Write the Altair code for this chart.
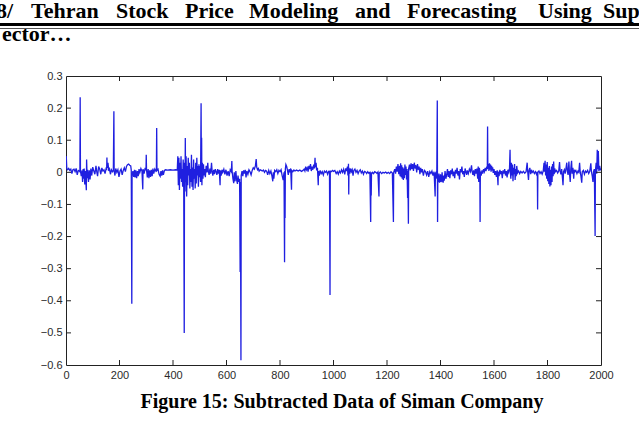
import altair as alt
import pandas as pd

# Subtracted (differenced) series of Siman Company, sample index vs. value.
idx_a = [0, 1, 3, 6, 10, 14, 18, 22, 26, 30, 34, 38, 42, 46, 50, 52, 53, 54, 57, 60,
         62, 64, 66, 68, 70, 72, 74, 76, 77, 79, 81, 84, 87, 90, 93, 96, 100, 104, 108, 112,
         115, 118, 122, 126, 130, 134, 138, 142, 146, 150, 152, 153, 154, 157, 160, 163, 166, 170, 174, 177,
         179, 180, 183, 186, 190, 194, 198, 202, 206, 210, 214, 218, 222, 226, 230, 234, 238, 242, 244, 246,
         247, 250, 253, 256, 258, 261, 264, 267, 270, 273, 276, 280, 284, 287, 288, 292, 296, 299, 300, 301,
         304, 307, 310, 313, 316, 319, 322, 325, 328, 332, 336, 338, 339, 340, 344, 348, 352, 355, 358, 361,
         364, 368, 372, 380, 390, 400, 410, 416, 418, 420, 422, 424, 426, 428, 430, 432, 434, 436, 438, 440,
         442, 443, 445, 446, 447, 449, 451, 453, 455, 457, 459, 461, 463, 465, 467, 469, 471, 473, 475, 477,
         479, 481, 483, 485, 487, 489, 491, 493, 495, 497, 499]
val_a = [0.048, 0.050, 0.012, 0.008, 0.012, 0.006, 0.010, -0.004, 0.008, 0.010, 0.002, 0.012, -0.008, 0.006, 0.004, 0.002, 0.234, 0.004, -0.012, 0.006,
         -0.030, 0.010, -0.020, 0.012, -0.038, 0.004, -0.025, -0.056, 0.040, -0.018, 0.008, -0.030, 0.006, -0.022, 0.012, -0.010, 0.016, 0.004, -0.006, 0.020,
         0.002, -0.012, 0.018, 0.010, -0.006, 0.014, 0.004, 0.008, -0.004, 0.012, 0.010, 0.046, 0.014, 0.030, 0.004, 0.010, -0.006, 0.008, 0.002, 0.006,
         0.190, 0.004, -0.010, 0.012, 0.000, 0.008, -0.014, 0.004, 0.010, -0.008, 0.006, 0.014, 0.002, 0.018, 0.024, 0.026, 0.022, 0.020, 0.006, -0.409,
         -0.010, 0.004, -0.014, 0.008, -0.016, 0.006, -0.018, 0.004, -0.012, 0.010, 0.000, 0.012, 0.004, -0.053, 0.010, -0.004, 0.014, 0.006, 0.055, 0.008,
         -0.016, 0.010, -0.018, 0.006, -0.014, 0.008, -0.012, 0.012, -0.004, 0.010, 0.004, 0.008, 0.138, 0.006, 0.010, -0.006, -0.012, 0.004, -0.010, 0.006,
         -0.008, 0.006, 0.008, 0.007, 0.008, 0.007, 0.008, 0.007, 0.050, -0.040, 0.045, -0.055, 0.030, -0.020, 0.050, -0.030, 0.010, -0.045, 0.040, -0.020,
         -0.500, 0.030, -0.060, 0.107, -0.030, 0.050, -0.075, 0.020, -0.040, 0.045, -0.010, 0.030, -0.050, 0.010, -0.030, 0.055, -0.045, 0.015, -0.055, 0.040,
         -0.020, 0.010, -0.050, 0.030, -0.035, 0.045, -0.010, 0.020, -0.045, 0.025, -0.015]

idx_b = [501, 503, 505, 506, 507, 508, 510, 512, 514, 516, 518, 521, 524, 527, 530, 532, 535, 538, 541, 544,
         546, 549, 552, 555, 558, 561, 564, 567, 570, 573, 576, 577, 580, 583, 586, 590, 594, 598, 602, 606,
         610, 614, 618, 620, 621, 624, 627, 629, 632, 635, 638, 641, 643, 646, 649, 651, 652, 654, 655, 658,
         661, 664, 667, 670, 673, 676, 680, 684, 688, 692, 696, 700, 704, 708, 711, 713, 716, 719, 722, 726,
         730, 734, 738, 742, 746, 750, 754, 758, 762, 766, 770, 773, 775, 777, 780, 784, 788, 792, 796, 800,
         804, 808, 812, 815, 817, 818, 819, 820, 822, 825, 828, 831, 834, 837, 840, 843, 844, 848, 852, 856,
         862, 868, 874, 880, 886, 890, 893, 896, 899, 902, 905, 908, 911, 914, 917, 920, 923, 926, 929, 931,
         932, 935, 937, 940, 943, 944, 947, 950, 954, 958, 962, 966, 970, 974, 978, 982, 985, 987, 988, 992,
         996]
val_b = [0.020, -0.030, 0.215, 0.000, 0.108, -0.040, 0.030, -0.020, 0.025, -0.010, 0.010, -0.015, 0.020, 0.000, 0.030, 0.004, -0.008, 0.012, -0.004, 0.030,
         0.006, -0.010, 0.008, -0.006, 0.010, 0.002, -0.008, 0.010, -0.004, 0.008, -0.040, 0.006, -0.010, 0.008, 0.000, 0.010, -0.006, 0.008, -0.010, 0.004,
         -0.012, 0.008, 0.002, 0.035, 0.004, -0.020, -0.034, 0.000, -0.028, 0.004, -0.024, -0.036, -0.010, -0.030, -0.020, -0.310, -0.030, -0.585, -0.010, 0.004,
         -0.012, 0.006, -0.004, 0.008, -0.016, 0.004, -0.006, 0.008, 0.002, -0.008, 0.006, 0.014, 0.010, 0.020, 0.041, 0.016, 0.008, 0.012, 0.004, 0.008,
         0.006, 0.004, 0.007, 0.000, 0.006, 0.004, -0.008, 0.006, -0.004, 0.004, -0.012, -0.028, 0.000, -0.020, 0.006, 0.002, 0.008, -0.004, 0.006, 0.002,
         0.008, -0.010, -0.024, 0.000, -0.280, 0.004, -0.142, 0.010, 0.024, 0.018, 0.006, -0.008, 0.010, 0.000, 0.012, -0.054, 0.006, 0.002, 0.007, 0.004,
         0.007, 0.004, 0.007, 0.003, 0.006, 0.010, 0.004, 0.018, 0.008, 0.014, 0.002, 0.020, 0.010, 0.026, 0.004, 0.018, 0.008, 0.024, 0.012, 0.045,
         0.016, 0.030, 0.006, 0.014, -0.040, 0.004, -0.010, 0.006, -0.004, 0.002, -0.008, 0.004, 0.000, 0.004, -0.006, 0.003, 0.002, -0.382, 0.004, 0.002,
         0.006]

idx_c = [1000, 1005, 1010, 1014, 1018, 1022, 1026, 1030, 1034, 1038, 1042, 1046, 1049, 1052, 1054, 1056, 1057, 1058, 1061, 1064,
         1067, 1070, 1073, 1076, 1080, 1084, 1088, 1092, 1096, 1100, 1104, 1108, 1112, 1116, 1120, 1124, 1128, 1132, 1136, 1139,
         1140, 1141, 1142, 1146, 1150, 1154, 1158, 1162, 1166, 1170, 1171, 1175, 1180, 1185, 1190, 1195, 1200, 1205, 1210, 1215,
         1220, 1224, 1225, 1229, 1232, 1235, 1238, 1241, 1244, 1247, 1249, 1251, 1253, 1255, 1257, 1259, 1261, 1263, 1265, 1267,
         1269, 1271, 1273, 1275, 1277, 1278, 1280, 1281, 1284, 1287, 1290, 1293, 1296, 1299, 1302, 1305, 1308, 1311, 1314, 1317,
         1320, 1323, 1326, 1329, 1332, 1336, 1340, 1344, 1348, 1352, 1356, 1360, 1364, 1368, 1372, 1376, 1380, 1381, 1384, 1386,
         1388, 1389, 1390, 1392, 1394, 1396, 1398, 1400, 1402, 1404, 1406, 1408, 1410, 1412, 1414, 1417, 1420, 1423, 1426, 1429,
         1432, 1435, 1438, 1441, 1444, 1447, 1450, 1453, 1456, 1459, 1462, 1465, 1468, 1471, 1474, 1477, 1480, 1483, 1486, 1489,
         1492, 1495, 1498]
val_c = [0.003, 0.006, -0.004, 0.002, -0.006, 0.004, -0.002, 0.008, 0.000, 0.010, -0.006, 0.012, 0.004, 0.018, -0.010, 0.027, -0.069, 0.014, -0.004, 0.012,
         0.002, 0.008, -0.010, 0.006, 0.010, 0.000, 0.006, -0.004, 0.004, 0.008, -0.002, 0.004, -0.006, 0.003, 0.001, -0.004, 0.002, -0.003, 0.000, -0.155,
         0.000, -0.072, -0.006, 0.000, -0.004, 0.002, 0.000, -0.003, 0.001, -0.075, -0.002, 0.001, -0.004, 0.000, -0.002, 0.001, -0.003, 0.000, -0.004, 0.002,
         -0.002, -0.155, 0.000, 0.010, -0.004, 0.018, 0.002, 0.026, -0.006, 0.020, -0.012, 0.028, -0.015, 0.022, -0.020, 0.016, -0.024, 0.012, -0.018, 0.024,
         -0.008, 0.018, -0.022, 0.010, -0.080, 0.004, -0.160, 0.012, 0.024, 0.006, 0.028, 0.010, 0.026, 0.004, 0.030, 0.012, 0.022, 0.000, 0.026, 0.008,
         0.018, -0.006, 0.014, 0.000, 0.010, -0.010, 0.006, 0.002, -0.008, 0.004, -0.014, 0.002, -0.004, 0.004, -0.010, 0.002, -0.075, -0.004, 0.002, -0.020,
         0.224, -0.155, -0.010, -0.030, -0.004, -0.032, -0.028, -0.006, -0.030, -0.026, 0.000, -0.028, -0.032, -0.010, -0.026, 0.004, -0.020, -0.008, 0.010, -0.014,
         0.004, -0.018, 0.006, -0.006, 0.012, -0.012, 0.002, -0.018, 0.008, -0.004, 0.014, -0.010, 0.004, -0.022, 0.010, 0.000, 0.018, -0.006, 0.004, -0.014,
         0.012, 0.000, -0.008]

idx_d = [1500, 1504, 1508, 1512, 1516, 1518, 1521, 1524, 1527, 1530, 1533, 1536, 1539, 1541, 1543, 1545, 1547, 1548, 1549, 1552,
         1555, 1558, 1561, 1564, 1567, 1570, 1573, 1575, 1576, 1577, 1579, 1581, 1583, 1585, 1587, 1589, 1591, 1593, 1595, 1597,
         1600, 1603, 1606, 1609, 1612, 1615, 1616, 1619, 1622, 1625, 1628, 1631, 1634, 1637, 1640, 1643, 1646, 1649, 1652, 1655,
         1658, 1660, 1661, 1663, 1665, 1667, 1669, 1671, 1673, 1675, 1677, 1679, 1681, 1683, 1685, 1688, 1692, 1696, 1700, 1705,
         1710, 1715, 1720, 1724, 1726, 1729, 1731, 1734, 1737, 1740, 1743, 1747, 1751, 1755, 1759, 1762, 1763, 1764, 1768, 1772,
         1776, 1780, 1784, 1787, 1789, 1791, 1793, 1795, 1797, 1799, 1801, 1803, 1805, 1807, 1809, 1811, 1813, 1815, 1817, 1819,
         1821, 1823, 1825, 1827, 1830, 1834, 1838, 1842, 1845, 1847, 1850, 1853, 1856, 1858, 1860, 1863, 1866, 1869, 1872, 1874,
         1877, 1880, 1882, 1885, 1887, 1890, 1892, 1895, 1898, 1900, 1903, 1906, 1910, 1914, 1917, 1920, 1922, 1925, 1928, 1930,
         1934, 1938, 1942, 1946, 1950, 1954, 1958, 1962, 1964, 1967, 1970, 1972, 1975, 1978, 1979, 1982, 1984, 1986, 1987, 1990,
         1992, 1995, 1998, 2000]
val_d = [0.006, -0.004, 0.010, 0.002, 0.022, 0.004, -0.008, 0.006, -0.012, 0.010, -0.004, 0.012, -0.020, 0.018, -0.030, 0.014, 0.004, -0.155, 0.002, -0.010,
         0.006, -0.004, 0.010, 0.002, 0.014, 0.004, 0.018, 0.010, 0.143, 0.012, 0.026, 0.004, 0.028, 0.008, 0.024, 0.002, 0.020, 0.006, 0.016, -0.002,
         0.010, -0.008, 0.004, -0.014, 0.006, -0.040, 0.002, -0.012, 0.008, -0.006, 0.004, -0.018, 0.006, -0.004, 0.010, -0.010, 0.004, -0.016, 0.008, 0.000,
         0.012, 0.070, 0.004, -0.020, 0.030, -0.010, 0.024, -0.028, 0.014, -0.006, 0.026, -0.024, 0.010, -0.012, 0.020, -0.002, 0.004, -0.004, 0.003, -0.002,
         0.003, -0.003, 0.002, 0.030, 0.002, -0.024, 0.006, 0.014, -0.006, 0.008, 0.000, 0.004, -0.004, 0.002, -0.006, 0.002, -0.116, 0.000, 0.004, -0.004,
         0.002, -0.006, 0.004, 0.030, 0.002, 0.036, -0.010, 0.024, -0.020, 0.032, -0.028, 0.014, -0.036, 0.020, -0.044, 0.008, -0.040, 0.018, -0.030, 0.026,
         -0.012, 0.034, -0.006, 0.012, 0.002, 0.006, -0.002, 0.004, 0.032, 0.006, -0.006, 0.010, -0.018, -0.040, 0.002, 0.008, -0.004, 0.012, 0.030, 0.004,
         -0.008, 0.034, 0.000, -0.030, 0.010, 0.036, -0.004, 0.014, -0.020, 0.008, 0.002, 0.006, -0.004, 0.004, 0.000, 0.030, 0.004, -0.012, -0.032, 0.002,
         0.006, -0.006, 0.004, 0.000, 0.006, -0.004, 0.003, 0.028, 0.004, -0.010, -0.030, 0.002, 0.010, -0.198, 0.004, 0.030, -0.004, 0.070, 0.010, 0.066,
         0.004, 0.020, 0.006, 0.012]

x_ticks = [0, 200, 400, 600, 800, 1000, 1200, 1400, 1600, 1800, 2000]
y_ticks = [-0.6, -0.5, -0.4, -0.3, -0.2, -0.1, 0.0, 0.1, 0.2, 0.3]

header_words = ["8/", "Tehran", "Stock", "Price", "Modeling", "and", "Forecasting", "Using", "Sup"]
header_cont = "ector…"
caption = "Figure 15: Subtracted Data of Siman Company"

W, H = 535, 289
LEFT, TOP = 66, 76

series = pd.DataFrame({
    "i": idx_a + idx_b + idx_c + idx_d,
    "v": val_a + val_b + val_c + val_d,
})

xs = alt.Scale(domain=[0, 2000], nice=False, zero=False)
ys = alt.Scale(domain=[-0.6, 0.3], nice=False, zero=False)

axis_style = dict(ticks=False, domain=False, grid=False, labelFont="Liberation Sans",
                  labelFontSize=11, labelColor="#2a2a2a", title=None,
                  labelOverlap=False, labelBound=False, labelFlush=False)
x_axis = alt.Axis(values=x_ticks, format="d", labelPadding=4, **axis_style)
y_axis = alt.Axis(values=y_ticks, format=".1~f", labelPadding=4, **axis_style)

line = alt.Chart(series).mark_line(color="#1f1fe0", strokeWidth=1.3, clip=True).encode(
    x=alt.X("i:Q", scale=xs, axis=x_axis),
    y=alt.Y("v:Q", scale=ys, axis=y_axis),
)

# MATLAB-style inward tick marks on all four sides of the box
xt = pd.DataFrame({"t": x_ticks[1:-1]})
yt = pd.DataFrame({"t": y_ticks[1:-1]})
tick_len = 5
tick_color = "#222222"
bottom_ticks = alt.Chart(xt).mark_rule(color=tick_color).encode(
    x=alt.X("t:Q", scale=xs, axis=x_axis), y=alt.value(H), y2=alt.value(H - tick_len))
top_ticks = alt.Chart(xt).mark_rule(color=tick_color).encode(
    x=alt.X("t:Q", scale=xs, axis=x_axis), y=alt.value(0), y2=alt.value(tick_len))
left_ticks = alt.Chart(yt).mark_rule(color=tick_color).encode(
    y=alt.Y("t:Q", scale=ys, axis=y_axis), x=alt.value(0), x2=alt.value(tick_len))
right_ticks = alt.Chart(yt).mark_rule(color=tick_color).encode(
    y=alt.Y("t:Q", scale=ys, axis=y_axis), x=alt.value(W), x2=alt.value(W - tick_len))

one = pd.DataFrame({"k": [0]})
serif = dict(font="Liberation Serif", fontWeight="bold", color="#000000")

# running page header above the figure
header_x = [-4, 31, 116, 185, 249, 355, 407, 538, 603]
header_layers = []
for word, px in zip(header_words, header_x):
    header_layers.append(
        alt.Chart(one).mark_text(align="left", baseline="alphabetic", fontSize=22, **serif).encode(
            x=alt.value(px - LEFT), y=alt.value(18 - TOP), text=alt.value(word)))
header_layers.append(
    alt.Chart(one).mark_text(align="left", baseline="alphabetic", fontSize=22, **serif).encode(
        x=alt.value(2 - LEFT), y=alt.value(41 - TOP), text=alt.value(header_cont)))
rule_thick = alt.Chart(one).mark_rule(color="#000000", strokeWidth=3).encode(
    x=alt.value(-LEFT), x2=alt.value(639 - LEFT), y=alt.value(24.5 - TOP))
rule_thin = alt.Chart(one).mark_rule(color="#555555", strokeWidth=1).encode(
    x=alt.value(-LEFT), x2=alt.value(639 - LEFT), y=alt.value(28.5 - TOP))

caption_mark = alt.Chart(one).mark_text(align="center", baseline="alphabetic", fontSize=20, **serif).encode(
    x=alt.value(342 - LEFT), y=alt.value(408 - TOP), text=alt.value(caption))

chart = alt.layer(
    line, bottom_ticks, top_ticks, left_ticks, right_ticks,
    rule_thick, rule_thin, caption_mark, *header_layers,
).properties(
    width=W, height=H,
    autosize=alt.AutoSizeParams(type="none"),
    padding={"left": LEFT, "top": TOP, "right": 639 - LEFT - W, "bottom": 424 - TOP - H},
    background="white",
).configure_view(stroke="#222222", strokeWidth=1)

chart.save("out.html", embed_options={"renderer": "svg", "actions": False})
